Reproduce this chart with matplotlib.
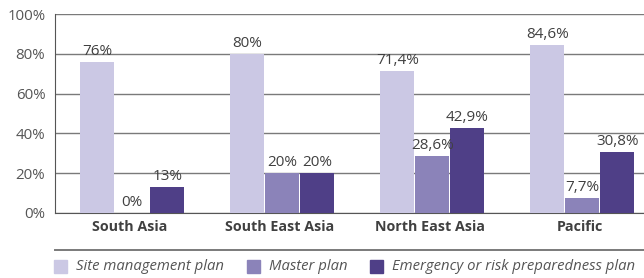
import numpy as np
import matplotlib.pyplot as plt
from matplotlib.patches import Rectangle
from matplotlib.lines import Line2D

regions = ["South Asia", "South East Asia", "North East Asia", "Pacific"]
series = ["Site management plan", "Master plan", "Emergency or risk preparedness plan"]
site_plan = [76, 80, 71.4, 84.6]
master_plan = [0, 20, 28.6, 7.7]
emergency_plan = [13, 20, 42.9, 30.8]
colors = ["#cbc8e4", "#8b83b9", "#4f3f87"]

plt.rcParams['font.family'] = ['Open Sans', 'DejaVu Sans']
txt = "#404040"

fig = plt.figure(figsize=(6.44, 2.78), dpi=100)
ax = fig.add_axes([55 / 644, 1 - 213 / 278, 600 / 644, 199 / 278])

x = np.arange(len(regions))
w = 0.228
for i, (vals, c) in enumerate(zip([site_plan, master_plan, emergency_plan], colors)):
    pos = x + 0.015 + (i - 1) * (w + 0.005)
    ax.bar(pos, vals, w, color=c, zorder=3)
    for p, v in zip(pos, vals):
        lab = ("%g%%" % v).replace(".", ",")
        ax.text(p, v + 1.5, lab, ha="center", va="bottom", fontsize=11, color=txt, zorder=4)

ax.set_xlim(-0.5, 3.5)
ax.set_ylim(0, 100)
ax.set_yticks(range(0, 101, 20))
ax.set_yticklabels(["%d%%" % t for t in range(0, 101, 20)], fontsize=10.8, color="#555555")
ax.set_xticks(x)
ax.set_xticklabels(regions, fontsize=10.3, fontweight="bold", color=txt)
ax.tick_params(axis="both", length=0)
ax.tick_params(axis="x", pad=5)
ax.tick_params(axis="y", pad=7)
ax.yaxis.grid(True, color="#7a7a7a", linewidth=1, zorder=0)
for s in ["top", "right"]:
    ax.spines[s].set_visible(False)
ax.spines["left"].set_color("#555555")
ax.spines["bottom"].set_color("#555555")

# legend area
fig.add_artist(Line2D([55 / 644, 1], [1 - 250 / 278] * 2, color="#7a7a7a", lw=1.4))
leg_x = [54, 247, 370]
for lx, name, c in zip(leg_x, series, colors):
    fig.add_artist(Rectangle((lx / 644, 1 - 273 / 278), 13 / 644, 13 / 278, color=c,
                             transform=fig.transFigure))
    fig.text((lx + 22) / 644, 1 - 266.5 / 278, name, fontsize=10.7, style="italic",
             color="#555555", va="center")

fig.savefig("out.png", dpi=100)
